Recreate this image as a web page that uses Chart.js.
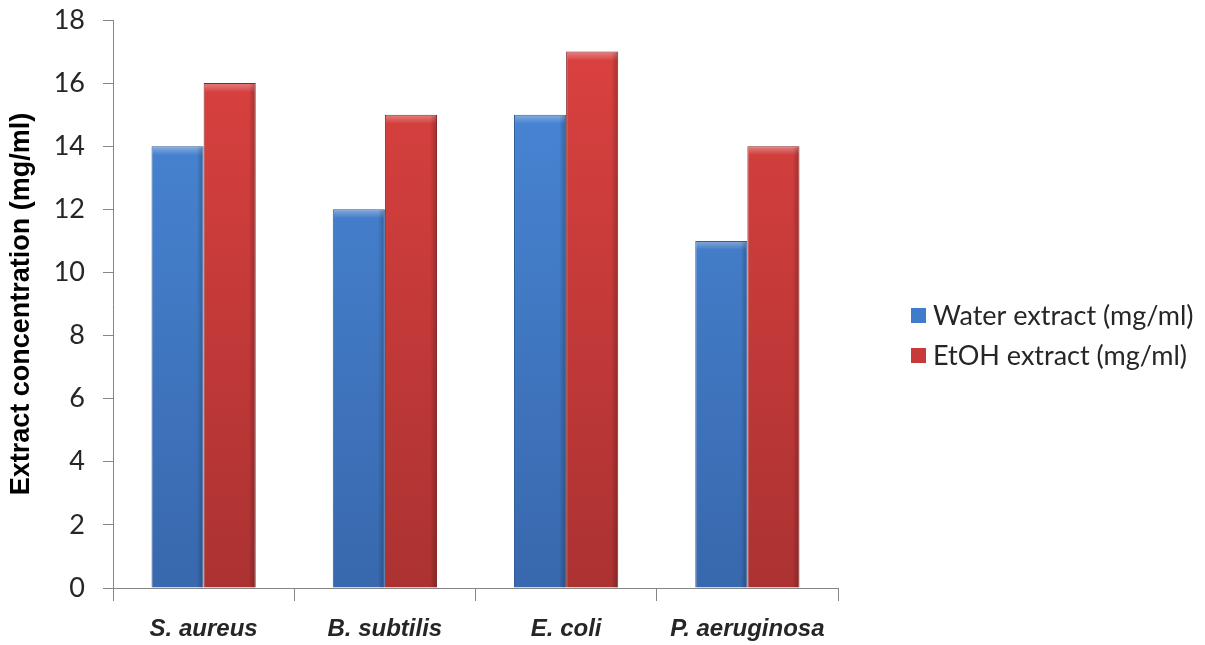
<!DOCTYPE html>
<html lang="en">

<head>
    <meta charset="UTF-8">
    <title>Extract concentration</title>
    <style>
        body {
            margin: 0;
            background: #ffffff;
        }

        #myChart {
            display: block;
        }
    </style>
</head>

<body>
    <canvas id="myChart" width="1205" height="645"></canvas>

    <script src="https://cdn.jsdelivr.net/npm/chart.js"></script>

    <script>
        // values
        const bacteria = ['S. aureus', 'B. subtilis', 'E. coli', 'P. aeruginosa'];
        const water_list = [14, 12, 15, 11];
        const etoh_list = [16, 15, 17, 14];
        const series_names = ['Water extract (mg/ml)', 'EtOH extract (mg/ml)'];
        const y_ticks = [0, 2, 4, 6, 8, 10, 12, 14, 16, 18];

        const tickFont = 'Lato';

        function fn_gradient(top, bottom) {
            return function (context) {
                const area = context.chart.chartArea;
                if (!area) return top;
                const g = context.chart.ctx.createLinearGradient(0, area.top, 0, area.bottom);
                g.addColorStop(0, top);
                g.addColorStop(1, bottom);
                return g;
            };
        }

        // light bevel on the top of each bar, like the 3D look of the original
        const barBevel = {
            id: 'barBevel',
            afterDatasetsDraw(chart) {
                const c = chart.ctx;
                c.save();
                chart.data.datasets.forEach(function (ds, i) {
                    chart.getDatasetMeta(i).data.forEach(function (bar) {
                        const w = bar.width;
                        const left = bar.x - w / 2;
                        const g = c.createLinearGradient(0, bar.y, 0, bar.y + 9);
                        g.addColorStop(0, 'rgba(255,255,255,0.35)');
                        g.addColorStop(1, 'rgba(255,255,255,0)');
                        c.fillStyle = g;
                        c.fillRect(left + 1, bar.y + 1, w - 2, 9);
                        const h = c.createLinearGradient(left + w - 7, 0, left + w, 0);
                        h.addColorStop(0, 'rgba(0,0,0,0)');
                        h.addColorStop(1, 'rgba(0,0,0,0.25)');
                        c.fillStyle = h;
                        c.fillRect(left + w - 7, bar.y + 1, 6, bar.base - bar.y - 1);
                    });
                });
                c.restore();
            }
        };

        // legend drawn at the right, next to the plot
        const sideLegend = {
            id: 'sideLegend',
            afterDraw(chart) {
                const c = chart.ctx;
                const x = chart.chartArea.right + 73;
                const rows = [315, 355];
                c.save();
                c.font = '27px ' + tickFont;
                c.textBaseline = 'middle';
                chart.data.datasets.forEach(function (ds, i) {
                    const y = rows[i];
                    c.fillStyle = ds.legendColor;
                    c.fillRect(x, y - 7, 15, 15);
                    c.fillStyle = '#262626';
                    c.fillText(ds.label, x + 22, y + 1);
                });
                c.restore();
            }
        };

        const ctx = document.getElementById('myChart');

        let config = {
            type: 'bar',
            data: {
                labels: bacteria,
                datasets: [
                    {
                        label: series_names[0],
                        data: water_list,
                        backgroundColor: fn_gradient('#4a89d9', '#3868ad'),
                        borderColor: '#2d5a96',
                        borderWidth: 1,
                        legendColor: '#3f7ccc'
                    },
                    {
                        label: series_names[1],
                        data: etoh_list,
                        backgroundColor: fn_gradient('#dc4240', '#ac3232'),
                        borderColor: '#862525',
                        borderWidth: 1,
                        legendColor: '#c83a3a'
                    }
                ]
            },
            options: {
                responsive: false,
                animation: false,
                layout: {
                    padding: { top: 20, right: 367, bottom: 0, left: 0 }
                },
                datasets: {
                    bar: {
                        categoryPercentage: 0.575,
                        barPercentage: 1.0
                    }
                },
                plugins: {
                    legend: { display: false },
                    tooltip: { enabled: false }
                },
                scales: {
                    x: {
                        afterFit: function (scale) { scale.height = 57; },
                        border: { color: '#868686', width: 1 },
                        grid: {
                            drawOnChartArea: false,
                            tickLength: 13,
                            color: '#868686'
                        },
                        ticks: {
                            padding: 14,
                            color: '#262626',
                            font: { family: 'Liberation Sans', size: 24, weight: 'bold', style: 'italic' }
                        }
                    },
                    y: {
                        min: 0,
                        max: 18,
                        afterFit: function (scale) {
                            scale.width = 113;
                            scale.paddingTop = 0;
                            scale.paddingBottom = 0;
                        },
                        afterBuildTicks: function (scale) {
                            scale.ticks = y_ticks.map(function (v) { return { value: v }; });
                        },
                        border: { color: '#868686', width: 1 },
                        grid: {
                            drawOnChartArea: false,
                            tickLength: 10,
                            color: '#868686'
                        },
                        ticks: {
                            padding: 18,
                            color: '#262626',
                            font: { family: tickFont, size: 27 }
                        },
                        title: {
                            display: true,
                            text: 'Extract concentration (mg/ml)',
                            color: '#000000',
                            padding: { top: 5, bottom: 0 },
                            font: { family: 'Liberation Sans', size: 27, weight: 'bold' }
                        }
                    }
                }
            },
            plugins: [barBevel, sideLegend]
        };

        let myChart = new Chart(ctx, config);
    </script>
</body>

</html>
